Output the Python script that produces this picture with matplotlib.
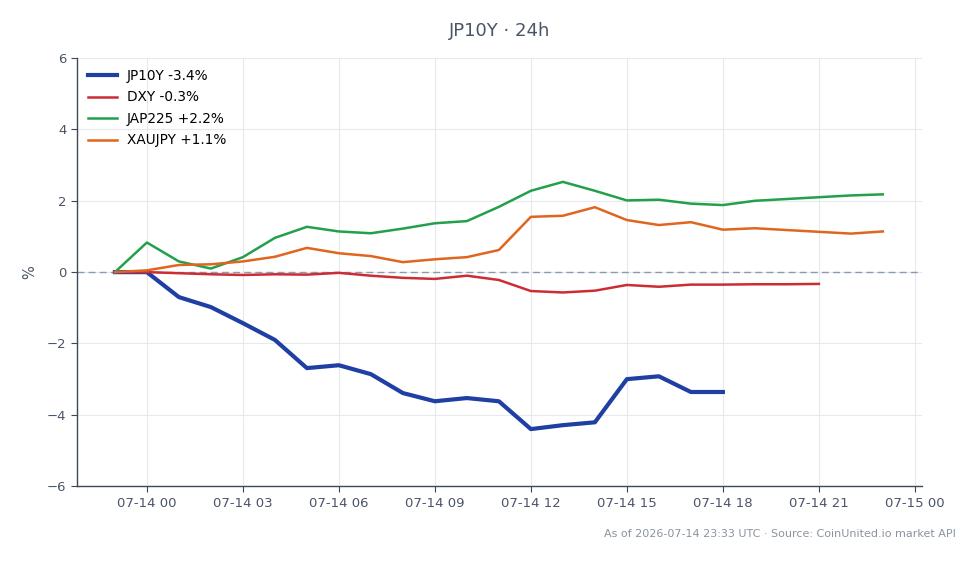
import matplotlib
matplotlib.use("Agg")
import matplotlib.pyplot as plt
import matplotlib.dates as mdates
import numpy as np
import pandas as pd

start = pd.Timestamp("2026-07-13 23:00")
jp10y = [0.0, 0.0, -0.70, -0.98, -1.43, -1.90, -2.69, -2.61, -2.86, -3.39, -3.62, -3.53, -3.62,
         -4.40, -4.29, -4.21, -3.00, -2.92, -3.36, -3.36]
dxy = [0.0, 0.0, -0.03, -0.06, -0.08, -0.06, -0.07, -0.02, -0.10, -0.16, -0.19, -0.10, -0.22,
       -0.53, -0.57, -0.52, -0.36, -0.41, -0.35, -0.35, -0.34, -0.34, -0.33]
jap225 = [0.0, 0.83, 0.30, 0.10, 0.42, 0.96, 1.27, 1.14, 1.09, 1.22, 1.37, 1.43, 1.83,
          2.28, 2.53, 2.28, 2.01, 2.03, 1.92, 1.88, 2.00, 2.05, 2.10, 2.15, 2.18]
xaujpy = [0.0, 0.05, 0.20, 0.22, 0.30, 0.43, 0.68, 0.53, 0.45, 0.28, 0.36, 0.42, 0.62,
          1.55, 1.58, 1.82, 1.46, 1.32, 1.40, 1.19, 1.23, 1.18, 1.13, 1.08, 1.14]
names = ["JP10Y -3.4%", "DXY -0.3%", "JAP225 +2.2%", "XAUJPY +1.1%"]
colors = ["#1f3fa3", "#cc2d35", "#22a04b", "#e0651f"]
widths = [3.0, 1.8, 1.8, 1.8]

fig = plt.figure(figsize=(9.8, 5.64), dpi=100)
ax = fig.add_axes([0.0786, 0.138, 0.862, 0.759])

for vals, name, c, w in zip([jp10y, dxy, jap225, xaujpy], names, colors, widths):
    t = pd.date_range(start, periods=len(vals), freq="h")
    ax.plot(t, vals, color=c, lw=w, label=name, zorder=3)

ax.axhline(0, color="#8a9bb0", lw=1, ls=(0, (5, 3)), zorder=2)

ax.set_ylim(-6, 6)
ax.set_yticks([-6, -4, -2, 0, 2, 4, 6])
ax.set_yticklabels(["\u22126", "\u22124", "\u22122", "0", "2", "4", "6"])
ax.set_xlim(pd.Timestamp("2026-07-13 21:49"), pd.Timestamp("2026-07-15 00:13"))
ax.xaxis.set_major_locator(mdates.HourLocator(byhour=range(0, 24, 3)))
ax.xaxis.set_major_formatter(mdates.DateFormatter("%m-%d %H"))

ax.grid(True, color="#e6e9ee", lw=0.8, zorder=0)
for s in ["top", "right"]:
    ax.spines[s].set_visible(False)
for s in ["left", "bottom"]:
    ax.spines[s].set_color("#3d4852")
    ax.spines[s].set_linewidth(1.0)
ax.tick_params(colors="#3d4852", labelcolor="#4a5568", labelsize=9.5, length=4)
ax.set_ylabel("%", color="#4a5568", fontsize=10.5)
ax.yaxis.set_label_coords(-0.047, 0.5)

ax.set_title("JP10Y \u00b7 24h", color="#4a5568", fontsize=13, pad=16)
leg = ax.legend(loc="upper left", frameon=False, fontsize=9.8, handlelength=2.1,
                handletextpad=0.75, borderaxespad=0.4, labelspacing=0.55)

fig.text(0.975, 0.053, "As of 2026-07-14 23:33 UTC \u00b7 Source: CoinUnited.io market API",
         ha="right", va="center", color="#8a94a0", fontsize=8)

fig.savefig("out.png", dpi=100)
